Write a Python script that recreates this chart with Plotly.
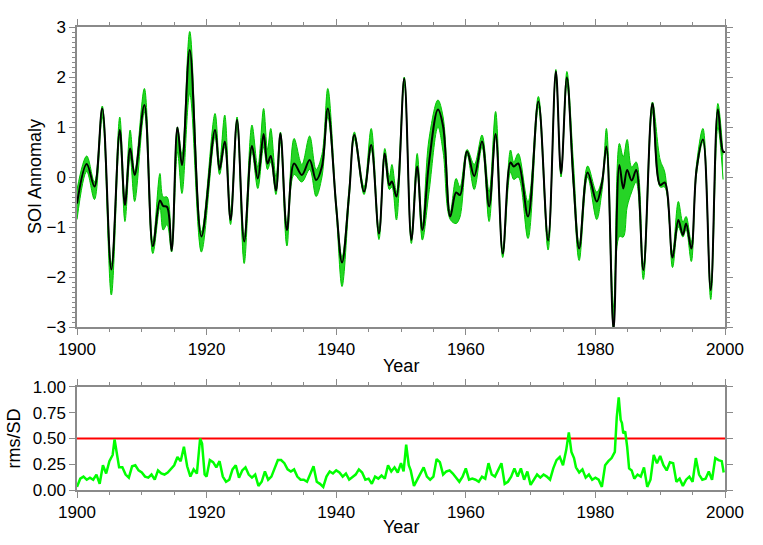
import plotly.graph_objects as go
from plotly.subplots import make_subplots

# SOI reconstruction (black) and ensemble spread (green), read at turning points
years = [1900.0, 1901.5, 1902.7, 1903.9, 1905.3, 1906.6, 1907.4, 1908.2, 1908.9, 1910.4,
         1911.7, 1912.8, 1913.3, 1913.9, 1914.6, 1915.5, 1916.2, 1917.4, 1919.2, 1921.3,
         1922.0, 1922.8, 1923.7, 1924.7, 1925.8, 1927.0, 1927.9, 1928.8, 1929.4, 1929.9,
         1930.7, 1931.4, 1932.4, 1933.5, 1934.7, 1935.9, 1936.9, 1937.8, 1938.7, 1940.0,
         1940.9, 1942.0, 1942.8, 1944.3, 1945.4, 1946.6, 1947.5, 1948.2, 1948.6, 1949.3,
         1950.5, 1951.6, 1952.5, 1953.3, 1954.3, 1955.7, 1956.5, 1957.6, 1958.5, 1959.1,
         1960.2, 1961.3, 1962.5, 1963.6, 1964.6, 1965.7, 1966.9, 1967.4, 1968.1, 1969.6,
         1971.2, 1972.7, 1973.9, 1974.7, 1975.6, 1976.6, 1977.5, 1978.8, 1980.2, 1981.0,
         1981.7, 1982.8, 1983.7, 1984.3, 1984.9, 1985.6, 1986.3, 1987.4, 1988.8, 1990.0,
         1990.7, 1991.9, 1992.8, 1993.5, 1994.0, 1994.8, 1995.6, 1996.6, 1997.8, 1998.9,
         1999.7, 2000.0]
soi = [-0.53, 0.26, -0.19, 1.37, -1.85, 0.94, -0.56, 0.57, 0.04, 1.44,
       -1.38, -0.47, -0.58, -0.60, -1.47, 0.99, 0.24, 2.54, -1.19, 0.94,
       0.15, 0.71, -0.86, 1.14, -1.29, 0.62, -0.03, 0.86, 0.27, 0.42,
       -0.27, 0.87, -1.06, 0.27, 0.04, 0.34, -0.06, 0.21, 1.37, -0.59,
       -1.71, -0.33, 0.84, -0.29, 0.64, -1.13, 0.47, -0.16, -0.09, -0.39,
       1.97, -1.26, 0.21, -1.06, 0.26, 1.35, 1.01, -0.79, -0.31, -0.36,
       0.51, 0.02, 0.71, -0.59, 0.86, -1.53, 0.29, 0.21, 0.27, -0.79,
       1.51, -1.27, 2.11, 0.07, 1.99, -0.06, -1.43, 0.09, -0.49, -0.13,
       0.61, -3.05, 0.24, -0.23, 0.14, -0.07, 0.14, -1.86, 1.47, -0.16,
       -0.11, -1.61, -0.86, -1.16, -0.93, -1.43, 0.14, 0.75, -2.26, 1.35,
       0.51, 0.50]

green_years = years[:-1]
green_hi = [-0.25, 0.42, -0.10, 1.42, -1.75, 1.20, -0.45, 0.94, 0.10, 1.77,
            -1.30, 0.07, -0.40, -0.40, -1.35, 1.00, 0.45, 2.91, -1.10, 1.27,
            0.30, 1.24, -0.70, 1.20, -1.20, 1.04, 0.20, 1.37, 0.55, 0.97,
            0.00, 0.90, -0.95, 0.77, 0.25, 0.82, 0.15, 0.45, 1.77, -0.50,
            -1.60, -0.20, 0.90, -0.20, 0.97, -1.05, 0.57, 0.00, 0.25, -0.30,
            2.00, -1.15, 0.47, -0.95, 0.74, 1.54, 1.20, -0.70, -0.03, -0.20,
            0.55, 0.25, 0.84, -0.30, 1.31, -1.45, 0.54, 0.30, 0.47, -0.50,
            1.61, -1.20, 2.15, 0.10, 2.11, 0.30, -1.35, 0.22, -0.30, -0.05,
            0.97, -2.60, 0.67, 0.40, 0.75, 0.20, 0.30, -1.75, 1.50, 0.34,
            0.10, -1.50, -0.49, -0.90, -0.79, -1.30, 0.25, 0.97, -2.15, 1.47,
            0.45]
green_lo = [-0.85, 0.11, -0.45, 1.20, -2.36, 0.80, -0.89, 0.40, -0.49, 1.30,
            -1.53, -0.60, -1.06, -0.95, -1.50, 0.50, -0.33, 1.67, -1.50, 0.80,
            0.05, 0.60, -0.95, 1.00, -1.73, 0.50, -0.23, 0.60, 0.15, 0.30,
            -0.35, 0.70, -1.38, 0.05, -0.10, 0.15, -0.39, 0.00, 1.20, -0.70,
            -2.19, -0.45, 0.75, -0.35, 0.55, -1.25, 0.35, -0.25, -0.20, -0.86,
            1.85, -1.33, 0.10, -1.26, -0.33, 1.00, 0.50, -0.85, -0.93, -0.80,
            0.45, -0.25, 0.60, -0.89, 0.80, -1.61, 0.10, -0.05, 0.00, -1.23,
            1.40, -1.46, 2.00, 0.00, 1.85, -0.20, -1.67, 0.00, -0.85, -0.30,
            0.50, -3.05, -1.19, -1.20, -0.60, -0.30, -0.10, -2.05, 1.30, -0.20,
            -0.20, -1.81, -1.00, -1.20, -1.05, -1.69, 0.05, 0.70, -2.45, 1.00,
            -0.05]

# rms/SD of the ensemble
rms_years = [1900.0, 1900.5, 1901.0, 1901.5, 1902.0, 1902.5, 1903.0, 1903.5, 1904.0, 1904.5,
             1905.0, 1905.5, 1905.8, 1906.2, 1906.5, 1907.0, 1907.5, 1908.0, 1908.5, 1909.0,
             1909.5, 1910.0, 1910.5, 1911.0, 1911.5, 1912.0, 1912.5, 1913.0, 1913.5, 1914.0,
             1914.5, 1915.0, 1915.5, 1916.0, 1916.5, 1917.0, 1917.5, 1918.0, 1918.5, 1919.0,
             1919.3, 1919.7, 1920.0, 1920.5, 1921.0, 1921.5, 1922.0, 1922.5, 1923.0, 1923.5,
             1924.0, 1924.5, 1925.0, 1925.5, 1926.0, 1926.5, 1927.0, 1927.5, 1928.0, 1928.5,
             1929.0, 1929.5, 1930.0, 1930.5, 1931.0, 1931.5, 1932.0, 1932.5, 1933.0, 1933.5,
             1934.0, 1934.5, 1935.0, 1935.5, 1936.0, 1936.5, 1937.0, 1937.5, 1938.0, 1938.5,
             1939.0, 1939.5, 1940.0, 1940.5, 1941.0, 1941.5, 1942.0, 1942.5, 1943.0, 1943.5,
             1944.0, 1944.5, 1945.0, 1945.5, 1946.0, 1946.5, 1947.0, 1947.5, 1948.0, 1948.5,
             1949.0, 1949.5, 1950.0, 1950.4, 1950.8, 1951.2, 1951.5, 1952.0, 1952.5, 1953.0,
             1953.5, 1954.0, 1954.5, 1955.0, 1955.5, 1956.0, 1956.5, 1957.0, 1957.5, 1958.0,
             1958.5, 1959.0, 1959.5, 1960.0, 1960.5, 1961.0, 1961.5, 1962.0, 1962.5, 1963.0,
             1963.5, 1964.0, 1964.5, 1965.0, 1965.5, 1966.0, 1966.5, 1967.0, 1967.5, 1968.0,
             1968.5, 1969.0, 1969.5, 1970.0, 1970.5, 1971.0, 1971.5, 1972.0, 1972.5, 1973.0,
             1973.5, 1974.0, 1974.5, 1975.0, 1975.5, 1975.9, 1976.3, 1976.7, 1977.0, 1977.5,
             1978.0, 1978.5, 1979.0, 1979.5, 1980.0, 1980.5, 1981.0, 1981.5, 1982.0, 1982.5,
             1983.0, 1983.3, 1983.6, 1983.9, 1984.1, 1984.3, 1984.6, 1984.9, 1985.2, 1985.6,
             1986.0, 1986.5, 1987.0, 1987.5, 1988.0, 1988.5, 1989.0, 1989.5, 1990.0, 1990.5,
             1991.0, 1991.5, 1992.0, 1992.5, 1993.0, 1993.5, 1994.0, 1994.5, 1995.0, 1995.5,
             1996.0, 1996.5, 1997.0, 1997.5, 1998.0, 1998.5, 1999.0, 1999.5, 1999.8]
rms_sd = [0.03, 0.11, 0.13, 0.10, 0.12, 0.10, 0.15, 0.06, 0.24, 0.16,
          0.28, 0.34, 0.49, 0.32, 0.22, 0.22, 0.15, 0.12, 0.23, 0.24,
          0.19, 0.17, 0.13, 0.12, 0.15, 0.10, 0.19, 0.16, 0.15, 0.17,
          0.21, 0.24, 0.32, 0.28, 0.42, 0.23, 0.13, 0.20, 0.16, 0.50,
          0.45, 0.15, 0.13, 0.29, 0.27, 0.22, 0.28, 0.13, 0.08, 0.10,
          0.20, 0.24, 0.12, 0.19, 0.22, 0.15, 0.12, 0.15, 0.04, 0.08,
          0.18, 0.10, 0.13, 0.22, 0.29, 0.29, 0.26, 0.20, 0.18, 0.20,
          0.13, 0.10, 0.10, 0.08, 0.15, 0.23, 0.08, 0.06, 0.03, 0.13,
          0.18, 0.16, 0.19, 0.17, 0.13, 0.16, 0.10, 0.13, 0.15, 0.20,
          0.17, 0.10, 0.11, 0.06, 0.13, 0.11, 0.14, 0.11, 0.24, 0.18,
          0.22, 0.17, 0.26, 0.18, 0.44, 0.24, 0.19, 0.04, 0.10, 0.15,
          0.22, 0.13, 0.10, 0.13, 0.30, 0.27, 0.15, 0.18, 0.19, 0.16,
          0.12, 0.08, 0.13, 0.21, 0.10, 0.11, 0.10, 0.08, 0.13, 0.11,
          0.26, 0.15, 0.13, 0.19, 0.26, 0.06, 0.08, 0.13, 0.21, 0.13,
          0.21, 0.10, 0.18, 0.05, 0.10, 0.15, 0.12, 0.15, 0.13, 0.10,
          0.21, 0.29, 0.32, 0.24, 0.39, 0.56, 0.37, 0.31, 0.22, 0.17,
          0.20, 0.12, 0.15, 0.10, 0.12, 0.10, 0.03, 0.24, 0.28, 0.31,
          0.37, 0.71, 0.90, 0.68, 0.65, 0.55, 0.57, 0.42, 0.21, 0.19,
          0.11, 0.15, 0.13, 0.22, 0.03, 0.10, 0.34, 0.26, 0.33, 0.24,
          0.19, 0.27, 0.26, 0.08, 0.11, 0.04, 0.10, 0.13, 0.08, 0.31,
          0.15, 0.10, 0.11, 0.18, 0.10, 0.31, 0.29, 0.28, 0.17]

threshold = 0.5

axis_col = "#8a8a8a"
font = dict(family="Liberation Sans, Arial, sans-serif", size=17, color="black")
title_font = dict(family="Liberation Sans, Arial, sans-serif", size=18, color="black")

fig = make_subplots(rows=2, cols=1, shared_xaxes=False)

# green ensemble band
fig.add_trace(go.Scatter(x=green_years, y=green_lo, mode="lines",
                         line=dict(color="#00c800", width=1, shape="spline"),
                         showlegend=False, hoverinfo="skip"), row=1, col=1)
fig.add_trace(go.Scatter(x=green_years, y=green_hi, mode="lines",
                         line=dict(color="#00c800", width=1, shape="spline"),
                         fill="tonexty", fillcolor="rgba(0,205,0,0.85)",
                         showlegend=False, hoverinfo="skip"), row=1, col=1)
fig.add_trace(go.Scatter(x=years, y=soi, mode="lines",
                         line=dict(color="black", width=2, shape="spline"),
                         showlegend=False), row=1, col=1)

fig.add_trace(go.Scatter(x=[1900, 2000], y=[threshold, threshold], mode="lines",
                         line=dict(color="#ff0000", width=2),
                         showlegend=False, hoverinfo="skip"), row=2, col=1)
fig.add_trace(go.Scatter(x=rms_years, y=rms_sd, mode="lines",
                         line=dict(color="#00ff00", width=2.5),
                         showlegend=False), row=2, col=1)

common = dict(showline=True, linecolor=axis_col, linewidth=1.5, mirror="ticks",
              ticks="outside", tickcolor=axis_col, ticklen=6, tickwidth=1,
              showgrid=False, zeroline=False, tickfont=font, automargin=False)

fig.update_xaxes(range=[1900, 2000], dtick=20,
                 minor=dict(dtick=5, ticks="outside", ticklen=3, tickcolor=axis_col),
                 **common)
fig.update_yaxes(range=[-3, 3], dtick=1,
                 minor=dict(dtick=0.1, ticks="outside", ticklen=3, tickcolor=axis_col),
                 row=1, col=1, **common)
fig.update_yaxes(range=[0, 1], dtick=0.25, tickformat=".2f", row=2, col=1, **common)

fig.update_layout(
    width=763, height=545,
    margin=dict(l=77, r=38, t=27, b=55),
    paper_bgcolor="white", plot_bgcolor="white",
    font=font,
    xaxis=dict(domain=[0, 1]),
    yaxis=dict(domain=[0.352, 1.0]),
    xaxis2=dict(domain=[0, 1]),
    yaxis2=dict(domain=[0.0, 0.2225]),
)

# axis titles placed like the original
titles = [
    dict(text="Year", x=0.5, y=0.352, yshift=-39, textangle=0),
    dict(text="Year", x=0.5, y=0.0, yshift=-37, textangle=0),
]
for t in titles:
    fig.add_annotation(text=t["text"], xref="paper", yref="paper", x=t["x"], y=t["y"],
                       yshift=t["yshift"], showarrow=False, font=title_font,
                       xanchor="center", yanchor="middle")
fig.add_annotation(text="SOI Annomaly", xref="paper", yref="paper", x=0, xshift=-42,
                   y=(0.352 + 1.0) / 2, textangle=-90, showarrow=False, font=title_font,
                   xanchor="center", yanchor="middle")
fig.add_annotation(text="rms/SD", xref="paper", yref="paper", x=0, xshift=-63,
                   y=0.2225 / 2, textangle=-90, showarrow=False, font=title_font,
                   xanchor="center", yanchor="middle")

# drop the default body margin so the figure sits at the page corner
fig.write_html("out.html", config={"displayModeBar": False},
               post_script="document.body.style.margin = '0';")
